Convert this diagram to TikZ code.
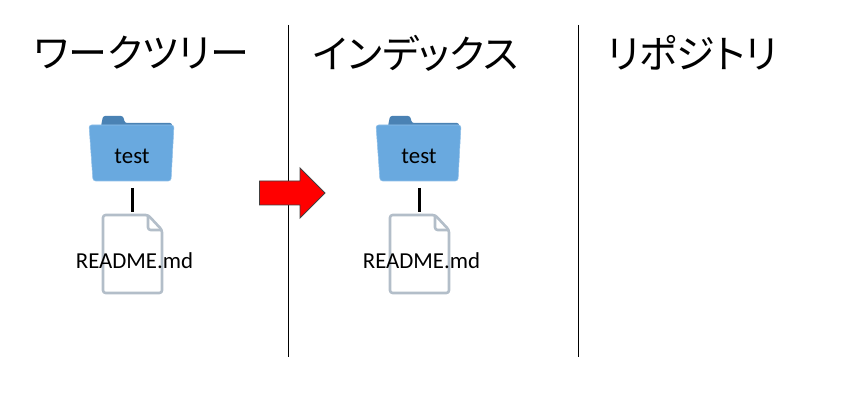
\documentclass[tikz,border=0pt]{standalone}
\usepackage{fontspec}
\setmainfont{Carlito}
\newfontfamily\cjk[RawFeature=+palt]{Noto Sans CJK JP}
\usetikzlibrary{calc}

\tikzset{
  heading/.style={anchor=west, inner sep=0pt, font=\cjk\fontsize{22.2pt}{24pt}\selectfont},
  label/.style={inner sep=0pt, font=\fontsize{13pt}{15pt}\selectfont},
  rule/.style={line width=0.4pt},
  link/.style={line width=1.5pt},
  folderback/.style={fill=folderdark, draw=none, rounded corners=1.2pt},
  folderfront/.style={fill=folderblue, draw=folderedge, line width=0.3pt, rounded corners=1.5pt},
  filepage/.style={draw=filegray, fill=white, line width=1.5pt, rounded corners=1.5pt, line join=round},
  bigarrow/.style={fill=red, draw=black!75, line width=0.5pt, line join=miter}
}
\definecolor{folderblue}{HTML}{69A9DF}
\definecolor{folderdark}{HTML}{4A82B4}
\definecolor{folderedge}{HTML}{8FBFE8}
\definecolor{filegray}{HTML}{B3BEC9}

\begin{document}
\begin{tikzpicture}[x=0.02cm,y=-0.02cm]
\useasboundingbox (0,0) rectangle (862,405);

\node[heading] (work) at (34,53) {ワークツリー};
\node[heading] (index) at (313,53) {インデックス};
\node[heading] (repo) at (607,53) {リポジトリ};

\coordinate (ruleAtop) at (288.5,25);
\coordinate (ruleAbot) at (288.5,357);
\coordinate (ruleBtop) at (578,25);
\coordinate (ruleBbot) at (578,357);
\draw[rule] (ruleAtop) -- (ruleAbot);
\draw[rule] (ruleBtop) -- (ruleBbot);

% folder and file, once per column
\foreach \name/\x in {A/0,B/287}{
  \begin{scope}[shift={(\x,0)}]
  \draw[folderback] (101,126) -- ++(2,-10) -- ++(20,0) -- ++(2,7) -- ++(47,0) -- ++(0,8) -- (101,131) -- cycle;
  \draw[folderfront] (89,125) -- ++(85,0) -- ++(-3,56) -- ++(-78,0) -- cycle;
  \draw[filepage] (103,215) -- ++(45,0) -- ++(14,15) -- ++(0,63) -- ++(-59,0) -- cycle;
  \draw[filepage, fill=none] (148,215) -- ++(0,15) -- ++(14,0);
  \node[label] (folder\name) at (132,156.5) {test};
  \node[label] (file\name) at (134.5,261) {README.md};
  \coordinate (linktop\name) at (132.5,188);
  \coordinate (linkbot\name) at (132.5,212);
  \draw[link] (linktop\name) -- (linkbot\name);
  \end{scope}
}

\draw[bigarrow] (259.5,181) -- ++(40.5,0) -- ++(0,-13) -- ++(25,25) -- ++(-25,25) -- ++(0,-13) -- ++(-40.5,0) -- cycle;
\end{tikzpicture}
\end{document}
